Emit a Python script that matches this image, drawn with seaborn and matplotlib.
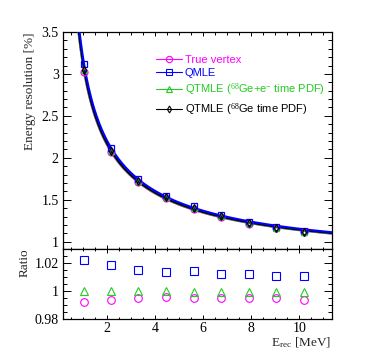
import numpy as np
import pandas as pd
import matplotlib
matplotlib.use("Agg")
import matplotlib.pyplot as plt
from matplotlib.lines import Line2D
from matplotlib.ticker import MultipleLocator, FormatStrFormatter
import seaborn as sns

sns.set_theme(style="white")
plt.rcParams["font.family"] = ["Liberation Serif", "DejaVu Serif"]
plt.rcParams["mathtext.fontset"] = "custom"
plt.rcParams["mathtext.rm"] = "Liberation Serif"
plt.rcParams["mathtext.it"] = "Liberation Serif:italic"

# ---------------- data ----------------
energy = [1.05, 2.15, 3.3, 4.45, 5.6, 6.75, 7.9, 9.05, 10.2]

res_true = [3.021, 2.066, 1.714, 1.523, 1.395, 1.299, 1.214, 1.162, 1.112]
res_qmle = [3.113, 2.118, 1.748, 1.550, 1.422, 1.321, 1.234, 1.181, 1.132]
res_qtmle_gee = [3.045, 2.080, 1.723, 1.530, 1.401, 1.304, 1.219, 1.167, 1.119]
res_qtmle_ge = [3.045, 2.080, 1.723, 1.530, 1.402, 1.305, 1.220, 1.168, 1.120]

ratio_true = [0.992, 0.9935, 0.995, 0.9955, 0.9952, 0.9952, 0.9947, 0.995, 0.9933]
ratio_qmle = [1.0222, 1.0185, 1.0147, 1.0133, 1.014, 1.012, 1.0118, 1.011, 1.011]
ratio_qtmle_gee = [1.0, 1.0, 1.0, 1.0, 0.9995, 0.9995, 0.9995, 0.999, 0.9995]

labels = ["True vertex", "QMLE",
          "QTMLE ($^{68}$Ge+e$^{-}$ time PDF)",
          "QTMLE ($^{68}$Ge time PDF)"]
colors = ["#ff00ff", "#0000ff", "#22cc22", "#000000"]
markers = ["o", "s", "^", "d"]
msizes = [5, 5, 5, 4]

W, H = 374, 357
fig = plt.figure(figsize=(W / 100, H / 100), dpi=100)
L, R = 63 / W, 332 / W
ax1 = fig.add_axes([L, 1 - 249 / H, R - L, (249 - 32) / H])
ax2 = fig.add_axes([L, 1 - 319 / H, R - L, (319 - 249) / H], sharex=ax1)

xlim = (0.17, 11.36)
xfit = np.linspace(0.5, xlim[1], 400)

series = [res_true, res_qmle, res_qtmle_gee, res_qtmle_ge]
# fitted curves (fit of res^2 = a + b/E + c/E^2 to the points)
line_order = [0, 2, 3, 1]
lws = [1.5, 1.5, 1.8, 1.3]
for i in line_order:
    e = np.array(energy)
    r = np.array(series[i])
    A = np.vstack([np.ones_like(e), 1 / e, 1 / e ** 2]).T
    p, *_ = np.linalg.lstsq(A, r ** 2, rcond=None)
    yfit = np.sqrt(np.clip(p[0] + p[1] / xfit + p[2] / xfit ** 2, 0, None))
    df = pd.DataFrame({"E": xfit, "res": yfit})
    sns.lineplot(data=df, x="E", y="res", ax=ax1, color=colors[i], lw=lws[i],
                 sort=False, zorder=2 + line_order.index(i))

for i, ys in enumerate(series):
    df = pd.DataFrame({"E": energy, "res": ys})
    sns.lineplot(data=df, x="E", y="res", ax=ax1, linestyle="", marker=markers[i],
                 ms=msizes[i], mfc="none", mec=colors[i], mew=0.9, zorder=10)

ratios = [ratio_true, ratio_qmle, ratio_qtmle_gee]
for i, ys in enumerate(ratios):
    df = pd.DataFrame({"E": energy, "ratio": ys})
    sns.lineplot(data=df, x="E", y="ratio", ax=ax2, linestyle="", marker=markers[i],
                 ms=5.5, mfc="none", mec=colors[i], mew=0.8, zorder=10)

ax1.set_xlim(*xlim)
ax1.set_ylim(0.913, 3.5)
ax2.set_ylim(0.98, 1.03)

for ax in (ax1, ax2):
    ax.set_xlabel("")
    ax.set_ylabel("")
    for s in ax.spines.values():
        s.set_color("black")
        s.set_linewidth(0.9)
    ax.xaxis.set_major_locator(MultipleLocator(2))
    ax.xaxis.set_minor_locator(MultipleLocator(0.5))
    ax.tick_params(which="both", direction="in", top=True, right=True,
                   bottom=True, left=True, colors="black", width=0.7,
                   labelsize=10, pad=3)

ax1.yaxis.set_major_locator(MultipleLocator(0.5))
ax1.yaxis.set_minor_locator(MultipleLocator(0.1))
ax1.yaxis.set_major_formatter(FormatStrFormatter("%g"))
ax1.tick_params(axis="x", which="major", length=3.2, labelbottom=False)
ax1.tick_params(axis="x", which="minor", length=1.8)
ax1.tick_params(axis="y", which="major", length=5.8)
ax1.tick_params(axis="y", which="minor", length=2.9)

ax2.yaxis.set_major_locator(MultipleLocator(0.02))
ax2.yaxis.set_minor_locator(MultipleLocator(0.005))
ax2.yaxis.set_major_formatter(FormatStrFormatter("%g"))
ax2.xaxis.set_major_formatter(FormatStrFormatter("%g"))
ax2.tick_params(axis="x", which="major", length=3.0, pad=2)
ax2.tick_params(axis="x", which="minor", length=1.6)
ax2.tick_params(axis="y", which="major", length=5.8)
ax2.tick_params(axis="y", which="minor", length=2.9)

fig.text(30 / W, 1 - 32 / H, "Energy resolution [%]", rotation=90,
         ha="center", va="top", fontsize=9.5)
fig.text(25 / W, 1 - 248 / H, "Ratio", rotation=90,
         ha="center", va="top", fontsize=9.5)
fig.text(331 / W, 1 - 343 / H, "E$_{\\mathrm{rec}}$ [MeV]", ha="right",
         va="center", fontsize=9.5)

handles = [Line2D([0], [0], color=colors[i], lw=0.8, marker=markers[i],
                  ms=msizes[i] - 0.5, mfc="none", mec=colors[i], mew=0.8)
           for i in range(4)]
leg = ax1.legend(handles, labels, loc="upper left",
                 bbox_to_anchor=(156 / W, 1 - 55 / H),
                 bbox_transform=fig.transFigure, frameon=False,
                 prop={"family": "Liberation Sans", "size": 8},
                 handlelength=2.3, handletextpad=0.3, labelspacing=0.3,
                 borderpad=0, borderaxespad=0)
for t, c in zip(leg.get_texts(), colors):
    t.set_color(c)

fig.savefig("out.png", dpi=100)
